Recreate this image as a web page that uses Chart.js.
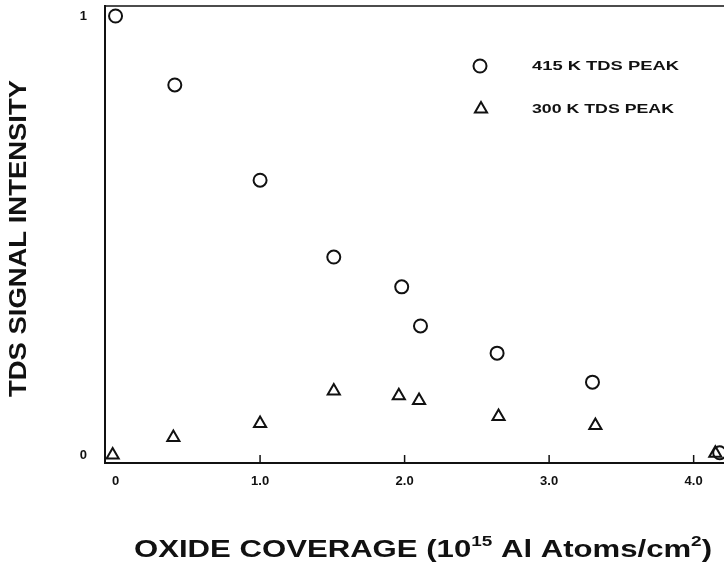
<!DOCTYPE html>
<html>
<head>
<meta charset="utf-8">
<script src="https://cdn.jsdelivr.net/npm/chart.js@4.4.1/dist/chart.umd.min.js"></script>
<style>
	html, body { margin: 0; padding: 0; background: #fff; }
	#wrap { width: 724px; height: 584px; }
</style>
</head>
<body>
<div id="wrap"><canvas id="tds" width="724" height="584"></canvas></div>
<script>
//data
const coverage415 = [0.0, 0.41, 1.0, 1.51, 1.98, 2.11, 2.64, 3.30, 4.18]
const intensity415 = [1.0, 0.843, 0.626, 0.451, 0.383, 0.294, 0.232, 0.166, 0.005]
const coverage300 = [-0.02, 0.40, 1.0, 1.51, 1.96, 2.10, 2.65, 3.32, 4.15]
const intensity300 = [0.0, 0.04, 0.072, 0.146, 0.135, 0.124, 0.088, 0.067, 0.004]

const seriesNames = ["415 K TDS PEAK", "300 K TDS PEAK"]
const xTickValues = [0, 1, 2, 3, 4]
const xTickLabels = ["0", "1.0", "2.0", "3.0", "4.0"]
const yTickValues = [0, 1]
const yTickLabels = ["0", "1"]
const yTitle = "TDS SIGNAL INTENSITY"

const ink = "#111"
const labelFont = "'Liberation Sans', Arial, sans-serif"

function toPoints(xs, ys) {
	return xs.map((x, i) => ({ x: x, y: ys[i] }))
}

//draws text stretched sideways to a target width (the scan is wide), parts can be superscripts
function drawFitted(ctx, parts, x, y, targetWidth) {
	let natural = 0
	parts.forEach(p => {
		ctx.font = "bold " + p.size + "px " + labelFont
		p.w = ctx.measureText(p.text).width
		natural += p.w
	})
	ctx.save()
	ctx.translate(x, y)
	ctx.scale(targetWidth / natural, 1)
	let cx = 0
	parts.forEach(p => {
		ctx.font = "bold " + p.size + "px " + labelFont
		ctx.fillText(p.text, cx, p.dy || 0)
		cx += p.w
	})
	ctx.restore()
}

const paperPlugin = {
	id: "paperText",
	afterDraw(chart) {
		const ctx = chart.ctx
		const area = chart.chartArea
		const xs = chart.scales.x
		ctx.save()
		ctx.fillStyle = ink
		ctx.strokeStyle = ink
		ctx.textAlign = "left"
		ctx.textBaseline = "alphabetic"

		//top frame line
		ctx.lineWidth = 1.5
		ctx.beginPath()
		ctx.moveTo(area.left, area.top)
		ctx.lineTo(area.right, area.top)
		ctx.stroke()

		//inward ticks on the x axis
		xTickValues.forEach(v => {
			if (v === 0) return
			let px = xs.getPixelForValue(v)
			ctx.beginPath()
			ctx.moveTo(px, area.bottom)
			ctx.lineTo(px, area.bottom - 8)
			ctx.stroke()
		})

		//x title with superscripts
		drawFitted(ctx, [
			{ text: "OXIDE COVERAGE (10", size: 23 },
			{ text: "15", size: 14, dy: -11 },
			{ text: " Al Atoms/cm", size: 23 },
			{ text: "2", size: 14, dy: -11 },
			{ text: ")", size: 23 }
		], 134, 557, 578)

		//y title, rotated
		ctx.save()
		ctx.translate(26, 397)
		ctx.rotate(-Math.PI / 2)
		drawFitted(ctx, [{ text: yTitle, size: 23 }], 0, 0, 317)
		ctx.restore()

		//legend
		const legendRows = [
			{ style: "circle", radius: 6.5, x: 480, y: 66, base: 69.5 },
			{ style: "triangle", radius: 7, x: 481, y: 109, base: 112.5 }
		]
		legendRows.forEach((row, i) => {
			ctx.fillStyle = "rgba(255,255,255,0)"
			ctx.strokeStyle = ink
			ctx.lineWidth = 2
			Chart.helpers.drawPoint(ctx, {
				pointStyle: row.style,
				radius: row.radius,
				borderWidth: 2
			}, row.x, row.y)
			ctx.fillStyle = ink
			drawFitted(ctx, [{ text: seriesNames[i], size: 13 }], 532, row.base, i === 0 ? 147 : 142)
		})
		ctx.restore()
	}
}

let ctx = document.getElementById("tds").getContext("2d")
let tdsChart = new Chart(ctx, {
	type: "scatter",
	data: {
		datasets: [{
			label: seriesNames[0],
			data: toPoints(coverage415, intensity415),
			pointStyle: "circle",
			pointRadius: 6.5,
			pointBorderWidth: 2,
			borderColor: ink,
			backgroundColor: "rgba(255,255,255,0)"
		}, {
			label: seriesNames[1],
			data: toPoints(coverage300, intensity300),
			pointStyle: "triangle",
			pointRadius: 7,
			pointBorderWidth: 2,
			borderColor: ink,
			backgroundColor: "rgba(255,255,255,0)"
		}]
	},
	options: {
		responsive: false,
		animation: false,
		layout: {
			autoPadding: false,
			padding: { top: 6, right: 0, left: 0, bottom: 0 }
		},
		plugins: {
			legend: { display: false },
			tooltip: { enabled: false }
		},
		scales: {
			x: {
				type: "linear",
				min: -0.073,
				max: 4.21,
				afterFit: s => {
					s.height = 121
					s.paddingLeft = 0
					s.paddingRight = 0
				},
				afterBuildTicks: s => { s.ticks = xTickValues.map(v => ({ value: v })) },
				grid: { display: false, drawTicks: false, tickLength: 0 },
				border: { display: true, color: ink, width: 2 },
				ticks: {
					padding: 11,
					color: ink,
					font: { family: labelFont, size: 13, weight: "bold" },
					callback: v => xTickLabels[xTickValues.indexOf(v)]
				}
			},
			y: {
				type: "linear",
				min: -0.0182,
				max: 1.0228,
				afterFit: s => {
					s.width = 105
					s.paddingTop = 0
					s.paddingBottom = 0
				},
				afterBuildTicks: s => { s.ticks = yTickValues.map(v => ({ value: v })) },
				grid: { display: false, drawTicks: false, tickLength: 0 },
				border: { display: true, color: ink, width: 2 },
				ticks: {
					padding: 18,
					color: ink,
					font: { family: labelFont, size: 13, weight: "bold" },
					callback: v => yTickLabels[yTickValues.indexOf(v)]
				}
			}
		}
	},
	plugins: [paperPlugin]
})
</script>
</body>
</html>
